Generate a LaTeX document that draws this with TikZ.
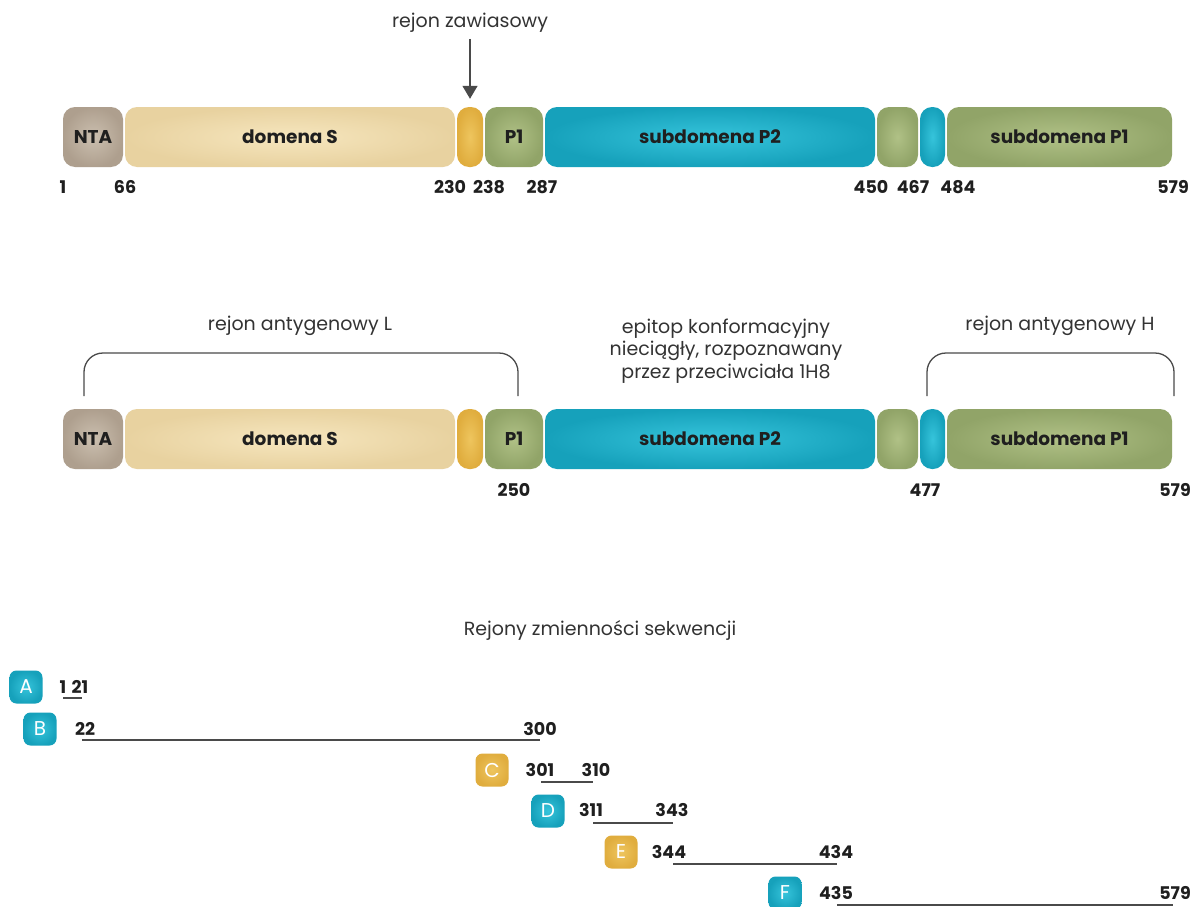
\documentclass[tikz,border=0pt]{standalone}
\usepackage{fontspec}
\setmainfont{Poppins}
\usetikzlibrary{arrows.meta}

\definecolor{ink}{HTML}{1F1F1F}
\definecolor{soft}{HTML}{333333}
\definecolor{rule}{HTML}{4A4A4A}
\definecolor{ntaOut}{HTML}{AE9F8E}
\definecolor{ntaIn}{HTML}{CBBFAF}
\definecolor{sOut}{HTML}{E8D2A0}
\definecolor{sIn}{HTML}{F6E6BE}
\definecolor{hOut}{HTML}{E0AD3E}
\definecolor{hIn}{HTML}{EEC55E}
\definecolor{gOut}{HTML}{91A468}
\definecolor{gIn}{HTML}{B0C186}
\definecolor{cOut}{HTML}{16A1BB}
\definecolor{cIn}{HTML}{36C4DB}

\tikzset{
  seg/.style={rectangle, rounded corners=12pt, minimum height=60pt, inner sep=0pt,
    font=\fontsize{18.5}{20}\selectfont\bfseries, text=ink},
  ntaseg/.style={seg, inner color=ntaIn, outer color=ntaOut},
  sseg/.style={seg, inner color=sIn, outer color=sOut},
  hseg/.style={seg, inner color=hIn, outer color=hOut},
  gseg/.style={seg, inner color=gIn, outer color=gOut},
  cseg/.style={seg, inner color=cIn, outer color=cOut},
  num/.style={inner sep=0pt, font=\fontsize{17.5}{20}\selectfont\bfseries, text=ink},
  caption/.style={inner sep=0pt, anchor=mid, font=\fontsize{19}{22.5}\selectfont, text=soft},
  bracket/.style={draw=rule, line width=1.3pt, rounded corners=19pt},
  span/.style={draw=rule, line width=1.3pt},
  badge/.style={rectangle, rounded corners=7pt, minimum width=33pt, minimum height=33pt,
    inner sep=0pt, font=\fontsize{20}{22}\selectfont, text=white},
  cbadge/.style={badge, inner color=cIn, outer color=cOut},
  obadge/.style={badge, inner color=hIn, outer color=hOut},
}

% one domain of the chain: name, style, left x, right x, centre y, label
\newcommand\domain[6]{%
  \node[#2, minimum width={(#4)-(#3)}] (#1) at ({((#3)+(#4))/2},#5) {#6};}

% the whole chain of domains at height #1, node names prefixed by #2
\newcommand\chain[2]{%
  \domain{#2nta}{ntaseg}{63}{123}{#1}{NTA}
  \domain{#2s}{sseg}{125}{455}{#1}{domena S}
  \domain{#2h}{hseg}{457}{483}{#1}{}
  \domain{#2pa}{gseg}{485}{543}{#1}{P1}
  \domain{#2pb}{cseg}{545}{875}{#1}{subdomena P2}
  \domain{#2g}{gseg}{877}{918}{#1}{}
  \domain{#2c}{cseg}{920}{945}{#1}{}
  \domain{#2pc}{gseg}{947}{1172}{#1}{subdomena P1}
}

\begin{document}
\begin{tikzpicture}[x=1pt,y=-1pt]
\useasboundingbox (0,0) rectangle (1191,907);
\fill[white] (0,0) rectangle (1191,907);

% ---------- domain map with residue numbers ----------
\chain{137}{t}
\node[caption] (hingelabel) at (470,25) {rejon zawiasowy};
\coordinate (arrowtop) at (470,39);
\draw[rule, line width=1.3pt, -{Triangle[length=13pt,width=15pt]}]
  (arrowtop) -- ([yshift=8pt]th.north);

\foreach \n/\x in {1/63, 66/125, 230/450, 238/489, 287/542, 450/871, 467/913, 484/958, 579/1173}
  \node[num] (tn\n) at (\x,187) {\n};

% ---------- antigenic regions ----------
\chain{439}{m}

\coordinate (La) at (84,396);  \coordinate (Lb) at (84,353);
\coordinate (Lc) at (518,353); \coordinate (Ld) at (518,396);
\draw[bracket] (La) -- (Lb) -- (Lc) -- (Ld);
\coordinate (Ha) at (927,396);  \coordinate (Hb) at (927,353);
\coordinate (Hc) at (1174,353); \coordinate (Hd) at (1174,396);
\draw[bracket] (Ha) -- (Hb) -- (Hc) -- (Hd);

\node[caption] (lreg) at (300,328) {rejon antygenowy L};
\node[caption] (hreg) at (1060,328) {rejon antygenowy H};
\node[caption, anchor=center, align=center] (epitope) at (726,351)
  {epitop konformacyjny\\nieciągły, rozpoznawany\\przez przeciwciała 1H8};

\foreach \n/\x in {250/514, 477/925, 579/1175}
  \node[num] (mn\n) at (\x,490) {\n};

% ---------- sequence variability regions ----------
\node[caption] (vtitle) at (600,633) {Rejony zmienności sekwencji};

\node[cbadge] (bA) at (26,687) {A};
\node[num] (a1) at (63,687) {1};
\node[num] (a2) at (80,687) {21};
\coordinate (a1s) at (63,698); \coordinate (a2s) at (82,698);
\draw[span] (a1s) -- (a2s);

\node[cbadge] (bB) at (40,729) {B};
\node[num] (b1) at (85,729) {22};
\node[num] (b2) at (540,729) {300};
\coordinate (b1s) at (82,740); \coordinate (b2s) at (540,740);
\draw[span] (b1s) -- (b2s);

\node[obadge] (bC) at (492,770) {C};
\node[num] (c1) at (540,770) {301};
\node[num] (c2) at (596,770) {310};
\coordinate (c1s) at (541,782); \coordinate (c2s) at (593,782);
\draw[span] (c1s) -- (c2s);

\node[cbadge] (bD) at (548,811) {D};
\node[num] (d1) at (591,810) {311};
\node[num] (d2) at (672,810) {343};
\coordinate (d1s) at (593,823); \coordinate (d2s) at (673,823);
\draw[span] (d1s) -- (d2s);

\node[obadge] (bE) at (621,852) {E};
\node[num] (e1) at (669,852) {344};
\node[num] (e2) at (836,852) {434};
\coordinate (e1s) at (673,864); \coordinate (e2s) at (837,864);
\draw[span] (e1s) -- (e2s);

\node[cbadge] (bF) at (785,893) {F};
\node[num] (f1) at (836,893) {435};
\node[num] (f2) at (1175,893) {579};
\coordinate (f1s) at (837,905); \coordinate (f2s) at (1173,905);
\draw[span] (f1s) -- (f2s);
\end{tikzpicture}
\end{document}
